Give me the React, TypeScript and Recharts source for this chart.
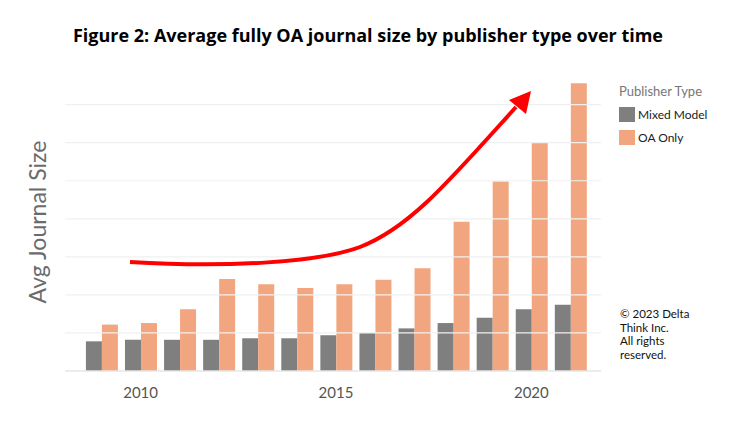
import React from 'react'
import { BarChart, Bar, XAxis, YAxis, ReferenceLine } from 'recharts'

// years shown on the category axis
const years = ['2009', '2010', '2011', '2012', '2013', '2014', '2015', '2016', '2017', '2018', '2019', '2020', '2021']

// average journal size (articles)
const mixedModel = [39, 41, 41, 41, 43, 43, 47, 50, 56, 63, 70, 81, 87]
const oaOnly = [61, 63, 81, 121, 114, 109, 114, 120, 135, 196, 249, 300, 378]

// gridline values
const gridValues = [50, 100, 150, 200, 250, 300, 350]

const GRAY = '#7f7f7f'
const ORANGE = '#f2a67f'

const data = years.map((year, i) => ({
  year,
  mixed: mixedModel[i],
  oa: oaOnly[i],
}))

const W = 741
const H = 429

export default function App() {
  return (
    <div style={{ position: 'absolute', left: 0, top: 0, width: W, height: H, background: '#fff', fontFamily: 'Lato, sans-serif' }}>
      <BarChart
        width={W}
        height={H}
        data={data}
        margin={{ top: 78, right: 140, bottom: 28, left: 65 }}
        barCategoryGap="10%"
        barGap={0}
      >
        {gridValues.map((v) => (
          <ReferenceLine key={v} y={v} stroke="#f0f0f0" strokeWidth={1.2} />
        ))}
        <XAxis
          dataKey="year"
          height={30}
          interval={0}
          tickLine={false}
          axisLine={{ stroke: '#e6e6e6', strokeWidth: 1.5 }}
          padding={{ left: 17, right: 11 }}
          tickFormatter={(v: string) => (Number(v) % 5 === 0 ? v : '')}
          tick={{ fill: '#555', fontSize: 15, fontFamily: 'Lato' }}
          tickMargin={10}
        />
        <YAxis
          width={0}
          domain={[0, 385]}
          tick={false}
          tickLine={false}
          axisLine={{ stroke: '#ececec', strokeWidth: 1.5 }}
        />
        <Bar dataKey="mixed" fill={GRAY} isAnimationActive={false} />
        <Bar dataKey="oa" fill={ORANGE} isAnimationActive={false} />
      </BarChart>

      <svg width={W} height={H} style={{ position: 'absolute', left: 0, top: 0, pointerEvents: 'none' }}>
        <text
          x={73}
          y={42}
          fontFamily="'Open Sans', sans-serif"
          fontWeight={700}
          fontSize={17}
          fill="#000"
          textLength={590}
          lengthAdjust="spacingAndGlyphs"
        >
          Figure 2: Average fully OA journal size by publisher type over time
        </text>
        <text
          x={0}
          y={0}
          transform="translate(46,222) rotate(-90)"
          textAnchor="middle"
          fontFamily="Lato, sans-serif"
          fontSize={23}
          fill="#6b6b6b"
        >
          Avg Journal Size
        </text>
        {/* trend arrow annotation */}
        <path
          d="M130,262 C230,268 320,262 360,247 C410,228 450,180 516,107"
          fill="none"
          stroke="#f00"
          strokeWidth={4}
        />
        <polygon points="531,91 509,100 526,114" fill="#f00" />
      </svg>

      <div style={{ position: 'absolute', left: 619, top: 83, fontSize: 13, color: '#777' }}>Publisher Type</div>
      {[
        { label: 'Mixed Model', color: GRAY, top: 107 },
        { label: 'OA Only', color: ORANGE, top: 130 },
      ].map((item) => (
        <div key={item.label} style={{ position: 'absolute', left: 619, top: item.top, display: 'flex', alignItems: 'center', fontSize: 12, color: '#222' }}>
          <span style={{ display: 'inline-block', width: 16, height: 15, background: item.color, marginRight: 3 }} />
          {item.label}
        </div>
      ))}

      <div style={{ position: 'absolute', left: 620, top: 307, fontSize: 11.5, lineHeight: '13.7px', color: '#111' }}>
        © 2023 Delta
        <br />
        Think Inc.
        <br />
        All rights
        <br />
        reserved.
      </div>
    </div>
  )
}
